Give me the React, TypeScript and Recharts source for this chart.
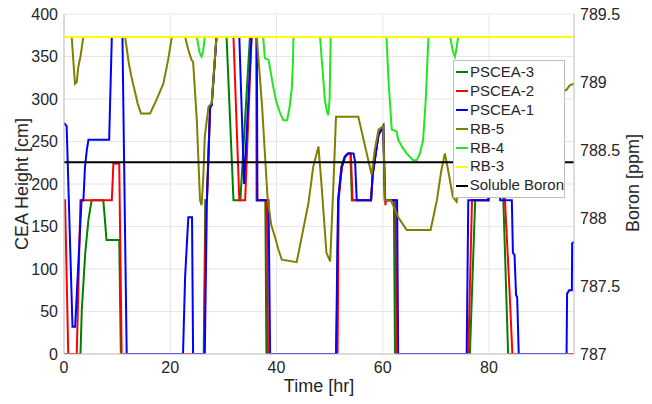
import React from 'react';
import { LineChart, Line, XAxis, YAxis, CartesianGrid, Legend } from 'recharts';

// [time hr, CEA height cm]
const pscea3: [number, number][] = [
  [0, 0], [3.1, 0], [3.35, 52], [4.0, 119], [4.6, 158], [5.2, 181], [7.4, 181], [7.7, 158], [8.0, 134], [10.4, 134], [10.7, 0],
  [26.3, 0], [26.6, 181], [26.9, 181], [27.5, 290], [27.8, 293], [28.7, 373],
  [30.6, 373], [31.9, 181], [33.2, 181], [35.0, 373], [36.2, 373], [36.25, 181], [37.9, 181], [38.1, 0],
  [51.3, 0], [51.6, 181], [52.2, 220], [52.8, 232], [53.4, 236], [53.9, 236], [54.2, 181], [57.8, 181], [58.1, 211], [59.2, 258], [60.1, 268], [60.4, 181], [62.1, 181], [62.3, 0],
  [76.4, 0], [77.4, 181], [79.9, 181], [80.4, 290], [81.6, 290], [82.7, 181], [83.6, 0], [96, 0],
];

const pscea2: [number, number][] = [
  [0, 181], [0.2, 181], [0.8, 0], [2.4, 0], [3.1, 181], [9.0, 181], [9.3, 224], [10.4, 224], [10.85, 0],
  [26.4, 0], [26.7, 181], [26.9, 181], [27.5, 290], [27.8, 293], [28.7, 373],
  [31.9, 373], [33.0, 181], [34.1, 181], [35.3, 373], [36.3, 373], [36.35, 181], [38.2, 181], [38.4, 0],
  [51.5, 0], [51.7, 181], [52.3, 220], [52.9, 232], [53.5, 236], [54.0, 236], [54.3, 181], [57.8, 181], [58.1, 211], [59.2, 258], [60.1, 268], [60.5, 175], [60.6, 181], [62.4, 181], [62.6, 0],
  [76.1, 0], [76.8, 181], [79.9, 181], [80.4, 290], [81.6, 290], [83.0, 181], [83.9, 70], [84.4, 0], [96, 0],
];

const pscea1: [number, number][] = [
  [0, 272], [0.5, 268], [1.6, 32], [2.1, 32], [3.3, 181], [3.65, 181], [3.95, 220], [4.3, 240], [4.6, 252], [8.5, 252], [9.0, 373], [11.0, 373], [11.8, 0],
  [22.4, 0], [22.8, 91], [23.1, 126], [23.4, 161], [24.1, 161], [24.3, 0],
  [26.5, 0], [26.9, 181], [27.5, 290], [27.8, 293], [28.7, 373],
  [33.0, 373], [33.9, 200], [35.3, 373], [36.3, 373], [36.4, 181], [38.5, 181], [38.8, 0],
  [51.2, 0], [51.6, 181], [52.0, 205], [52.3, 220], [52.9, 232], [53.5, 236], [54.5, 236], [54.8, 226], [55.1, 181], [57.8, 181], [58.1, 211], [59.2, 258], [60.1, 268], [60.4, 181], [62.7, 181], [62.9, 0],
  [75.8, 0], [76.1, 181], [79.9, 181], [80.4, 290], [81.6, 290], [82.1, 181], [84.3, 181], [84.5, 119], [84.8, 117], [85.1, 69], [85.3, 67], [85.6, 0],
  [94.6, 0], [94.7, 71], [95.1, 75], [95.6, 75], [95.65, 130], [96, 132],
];

const rb5: [number, number][] = [
  [0, 373], [1.45, 373], [1.75, 346], [2.07, 318], [2.4, 320], [2.7, 338], [3.1, 350], [3.64, 373],
  [11.5, 373], [11.8, 360], [12.2, 342], [12.7, 326], [13.3, 310], [13.9, 294], [14.5, 283], [16.2, 283], [17.4, 299], [18.7, 318], [19.6, 346], [20.3, 373],
  [22.8, 373], [23.4, 358], [24.0, 346], [24.3, 344], [25.0, 275], [25.6, 181], [25.9, 175], [26.2, 205], [26.5, 256], [27.2, 291], [27.8, 295], [28.1, 322], [28.7, 373],
  [36.3, 373], [37.3, 290], [38.3, 185], [39.0, 152], [39.7, 138], [40.4, 122], [41.0, 111], [43.8, 108], [46.0, 177], [46.6, 205], [46.9, 220], [47.9, 244], [48.5, 197], [49.4, 119], [50.1, 109], [50.7, 197], [51.2, 279], [55.4, 279], [57.9, 211], [58.5, 240], [59.2, 264], [60.1, 268], [60.4, 181],
  [61.5, 181], [63.0, 160], [64.5, 146], [69.0, 146], [70.2, 181], [71.0, 215], [71.7, 236], [72.4, 213], [73.2, 185], [73.9, 179],
  [74.5, 200], [78, 260], [82, 300], [88, 285], [93, 305], [94.6, 311], [95.2, 316], [96, 318],
];

const rb4: [number, number][] = [
  [0, 373], [25.0, 373], [25.5, 355], [25.9, 350], [26.2, 356], [26.5, 373],
  [37.5, 373], [37.8, 348], [38.5, 346], [39.4, 314], [40.0, 296], [40.7, 283], [41.3, 275], [42.0, 275], [42.5, 292], [42.9, 314], [43.1, 345], [43.2, 373],
  [48.2, 373], [48.6, 340], [49.1, 299], [49.5, 285], [49.75, 281], [50.0, 300], [50.2, 373],
  [60.7, 373], [61.1, 320], [61.7, 264], [62.6, 262], [62.9, 252], [63.7, 243], [64.5, 236], [65.7, 228], [66.4, 228], [67.0, 236], [67.6, 252], [68.1, 300], [68.6, 373],
  [72.7, 373], [73.2, 356], [73.6, 350], [73.9, 360], [74.2, 373], [96, 373],
];

const rb3: [number, number][] = [[0, 373], [96, 373]];

// [time hr, boron ppm]
const boron: [number, number][] = [[0, 788.41], [96, 788.41]];

const xTicks = [0, 20, 40, 60, 80];
const yTicksLeft = [0, 50, 100, 150, 200, 250, 300, 350, 400];
const yTicksRight = [787, 787.5, 788, 788.5, 789, 789.5];

const toPts = (a: [number, number][]) => a.map(([t, v]) => ({ t, v }));

const series = [
  { name: 'PSCEA-3', color: '#008000', data: pscea3, axis: 'left' },
  { name: 'PSCEA-2', color: '#ff0000', data: pscea2, axis: 'left' },
  { name: 'PSCEA-1', color: '#0000ff', data: pscea1, axis: 'left' },
  { name: 'RB-5', color: '#808000', data: rb5, axis: 'left' },
  { name: 'RB-4', color: '#22e622', data: rb4, axis: 'left' },
  { name: 'RB-3', color: '#ffff00', data: rb3, axis: 'left' },
  { name: 'Soluble Boron', color: '#000000', data: boron, axis: 'right' },
];

const FONT = '"Liberation Sans", Arial, Helvetica, sans-serif';
const tickStyle = { fontSize: 16, fill: '#262626', fontFamily: FONT };

const LegendBox = () => (
  <div
    style={{
      background: '#fff',
      border: '1px solid #bdbdbd',
      width: 112,
      height: 138,
      boxSizing: 'border-box',
      paddingTop: 2,
      fontFamily: FONT,
      fontSize: 15,
      color: '#262626',
    }}
  >
    {series.map((s) => (
      <div key={s.name} style={{ display: 'flex', alignItems: 'center', height: 18.9, lineHeight: '18.9px' }}>
        <span style={{ display: 'inline-block', width: 12, height: 2, background: s.color, marginLeft: 2, marginRight: 2 }} />
        <span style={{ whiteSpace: 'nowrap' }}>{s.name}</span>
      </div>
    ))}
  </div>
);

const labelBase: React.CSSProperties = {
  position: 'absolute',
  fontFamily: FONT,
  fontSize: 18,
  color: '#262626',
  whiteSpace: 'nowrap',
  lineHeight: '20px',
};

export default function App() {
  return (
    <div style={{ position: 'absolute', left: 0, top: 0, width: 652, height: 404, background: '#fff' }}>
      <LineChart width={652} height={404} margin={{ top: 14, right: 8, bottom: 10, left: 14 }}>
        <CartesianGrid xAxisId="x" yAxisId="left" stroke="#e6e6e6" strokeWidth={1} />
        <XAxis
          xAxisId="x"
          type="number"
          dataKey="t"
          domain={[0, 96]}
          ticks={xTicks}
          allowDataOverflow
          height={40}
          tickLine={false}
          tickSize={0}
          tickMargin={8}
          axisLine={{ stroke: '#c4c4c4' }}
          tick={tickStyle}
        />
        <YAxis
          yAxisId="left"
          orientation="left"
          type="number"
          domain={[0, 400]}
          ticks={yTicksLeft}
          allowDataOverflow
          width={50}
          tickLine={false}
          tickSize={0}
          tickMargin={6}
          axisLine={{ stroke: '#c4c4c4' }}
          tick={tickStyle}
        />
        <YAxis
          yAxisId="right"
          orientation="right"
          type="number"
          domain={[787, 789.5]}
          ticks={yTicksRight}
          allowDataOverflow
          width={70}
          tickLine={false}
          tickSize={0}
          tickMargin={6}
          axisLine={{ stroke: '#c4c4c4' }}
          tick={tickStyle}
        />
        {series.map((s) => (
          <Line
            key={s.name}
            name={s.name}
            xAxisId="x"
            yAxisId={s.axis}
            data={toPts(s.data)}
            dataKey="v"
            type="linear"
            stroke={s.color}
            strokeWidth={2}
            dot={false}
            activeDot={false}
            isAnimationActive={false}
          />
        ))}
        <Legend
          layout="vertical"
          align="center"
          verticalAlign="middle"
          content={() => <LegendBox />}
          wrapperStyle={{ position: 'absolute', left: 453, top: 60, width: 112, height: 138, margin: 0 }}
        />
      </LineChart>
      <div style={{ ...labelBase, left: 319, top: 386, transform: 'translate(-50%, -50%)' }}>Time [hr]</div>
      <div style={{ ...labelBase, left: 22, top: 184, transform: 'translate(-50%, -50%) rotate(-90deg)' }}>CEA Height [cm]</div>
      <div style={{ ...labelBase, left: 633, top: 183, transform: 'translate(-50%, -50%) rotate(-90deg)' }}>Boron [ppm]</div>
    </div>
  );
}
